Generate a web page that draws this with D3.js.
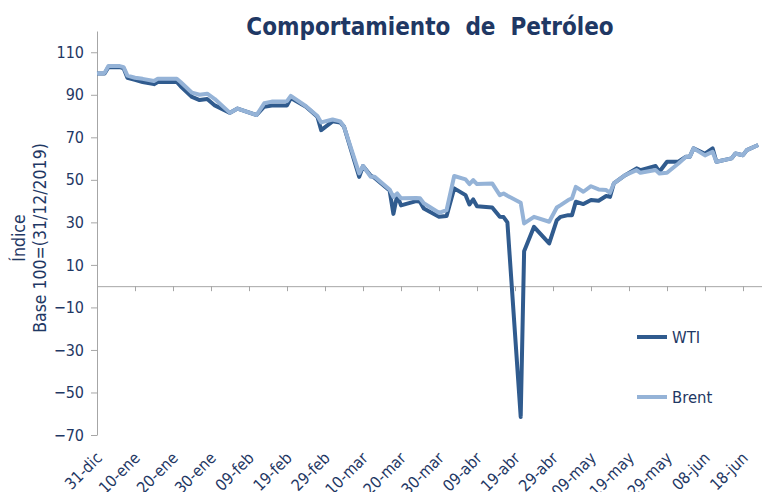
<!DOCTYPE html>
<html lang="es">
<head>
<meta charset="UTF-8">
<title>Comportamiento de Petróleo</title>
<script src="https://d3js.org/d3.v7.min.js"></script>
<style>
  body { margin: 0; background: #fff; }
  svg text { font-family: "DejaVu Sans Condensed", "DejaVu Sans", sans-serif; fill: #1f3864; }
</style>
</head>
<body>
<div id="chart"></div>
<script>
// days counted from 31-dic-2019, values are index base 100
const days  = [0, 2, 3, 6, 7, 8, 10, 12, 15, 16, 21, 22, 25, 27, 29, 31, 35, 37, 42, 44, 46, 50, 51,
               55, 58, 59, 62, 64, 65, 69, 70, 72, 73, 77, 78, 79, 80, 84, 85, 86, 90, 92, 94,
               97, 98, 99, 100, 104, 106, 107, 108, 111.5, 112.4, 115, 119, 121, 122, 124, 125, 126,
               128, 130, 132, 134, 135, 136, 139, 142, 143, 147, 148, 150, 153, 155, 156, 157,
               160, 162, 163, 167, 168, 170, 171, 174]
const wti   = [100, 100, 103, 103, 102.5, 98, 97, 96, 95, 96, 96, 94, 89, 87.5, 88, 85, 81.5, 83.5, 80.5, 84.4, 85, 85, 88.5,
               84.4, 79.7, 73.4, 77.5, 77, 75, 51.4, 56.5, 52, 51, 45, 34, 42.8, 38, 40, 39.7, 36.5, 32.6, 33, 46,
               42.8, 38.4, 40.8, 37.6, 37, 32.6, 32.5, 30, -61.5, 16.4, 27.9, 20.1, 31, 32.6, 33.4, 33.4, 39.7,
               38.6, 40.5, 40.2, 42.4, 42, 48.3, 52.2, 55.4, 54.6, 56.5, 53.8, 58.5, 58.5, 60.9, 60.9, 64.8,
               62.3, 64.8, 58.5, 60.1, 62.4, 61.6, 64, 66.4]
const brent = [100, 100.3, 103.5, 103.5, 103, 99, 98, 97.5, 96.5, 97.5, 97.5, 96, 91, 90, 90.5, 88, 81.5, 83.5, 80.5, 86, 86.8, 87, 89.5,
               84.6, 80, 77, 78.4, 77.5, 75, 53, 56.5, 51.5, 51.5, 45.5, 42, 43.6, 41.3, 41.5, 41.3, 39, 34.5, 35.8, 51.8,
               50.2, 48, 49.9, 48, 48.3, 42.8, 43.6, 42.5, 39.2, 29.5, 32.6, 30.3, 37, 38.1, 40.5, 41.3, 46.7,
               44.4, 47, 45.5, 45.2, 43.9, 48.3, 52.2, 54.6, 53.3, 54.6, 53, 53.3, 57.7, 60.9, 60.9, 64.8,
               61.5, 63.2, 58.5, 60.1, 62.4, 61.6, 64, 66.4]

const tickDays   = [0, 10, 20, 30, 40, 50, 60, 70, 80, 90, 100, 110, 120, 130, 140, 150, 160, 170]
const tickLabels = ["31-dic", "10-ene", "20-ene", "30-ene", "09-feb", "19-feb", "29-feb", "10-mar", "20-mar",
                    "30-mar", "09-abr", "19-abr", "29-abr", "09-may", "19-may", "29-may", "08-jun", "18-jun"]
const yTicks = [-70, -50, -30, -10, 10, 30, 50, 70, 90, 110]

const width = 762, height = 492
const colorWTI = "#305b8e", colorBrent = "#95b3d7", axisColor = "#a6a6a6"

const svg = d3.select("#chart").append("svg")
    .attr("width", width)
    .attr("height", height)

const x = d3.scaleLinear().domain([0, 175]).range([97, 762])
const y = d3.scaleLinear().domain([-70, 120]).range([435, 31])

// title
svg.append("text")
    .attr("x", 430).attr("y", 35)
    .attr("text-anchor", "middle")
    .style("white-space", "pre")
    .attr("font-size", 24).attr("font-weight", "bold")
    .text("Comportamiento  de  Petróleo")

// y axis
const yAxis = svg.append("g")
    .attr("transform", "translate(" + x(0) + ",0)")
    .call(d3.axisLeft(y).tickValues(yTicks).tickSize(6).tickPadding(7).tickSizeOuter(0))
yAxis.select(".domain").attr("stroke", axisColor)
yAxis.selectAll(".tick line").attr("stroke", axisColor)
yAxis.selectAll(".tick text").attr("font-size", 16).attr("font-family", null).attr("fill", "#1f3864")

// y title
const yTitle = svg.append("text")
    .attr("transform", "translate(0,238) rotate(-90)")
    .attr("text-anchor", "middle")
    .attr("font-size", 17.5)
yTitle.append("tspan").attr("x", 0).attr("y", 25).text("Índice")
yTitle.append("tspan").attr("x", 0).attr("y", 46).text("Base 100=(31/12/2019)")

// x axis at zero
const xAxis = svg.append("g")
    .attr("transform", "translate(0," + y(0) + ")")
    .call(d3.axisBottom(x).tickValues(tickDays).tickSize(5).tickSizeOuter(0)
        .tickFormat((d, i) => tickLabels[i]))
xAxis.select(".domain").attr("stroke", axisColor)
xAxis.selectAll(".tick line").attr("stroke", axisColor)
xAxis.selectAll(".tick text").remove()

// rotated date labels under the plot (bottom edge clips them, as in the source)
svg.append("g").selectAll("text")
    .data(tickDays)
    .join("text")
    .attr("transform", d => "translate(" + (x(d) + 6) + ",459) rotate(-45)")
    .attr("text-anchor", "end")
    .attr("font-size", 16)
    .text((d, i) => tickLabels[i])

// lines
const line = d3.line()
    .x((d, i) => x(days[i]))
    .y(d => y(d))

svg.append("path")
    .datum(wti)
    .attr("fill", "none")
    .attr("stroke", colorWTI)
    .attr("stroke-width", 4)
    .attr("stroke-linejoin", "round")
    .attr("d", line)

svg.append("path")
    .datum(brent)
    .attr("fill", "none")
    .attr("stroke", colorBrent)
    .attr("stroke-width", 4)
    .attr("stroke-linejoin", "round")
    .attr("d", line)

// legend
const legend = [["WTI", colorWTI, 337], ["Brent", colorBrent, 397]]
legend.forEach(function(l) {
    svg.append("line")
        .attr("x1", 637).attr("x2", 667)
        .attr("y1", l[2]).attr("y2", l[2])
        .attr("stroke", l[1]).attr("stroke-width", 4)
    svg.append("text")
        .attr("x", 672).attr("y", l[2] + 6)
        .attr("font-size", 16.5)
        .text(l[0])
})
</script>
</body>
</html>
